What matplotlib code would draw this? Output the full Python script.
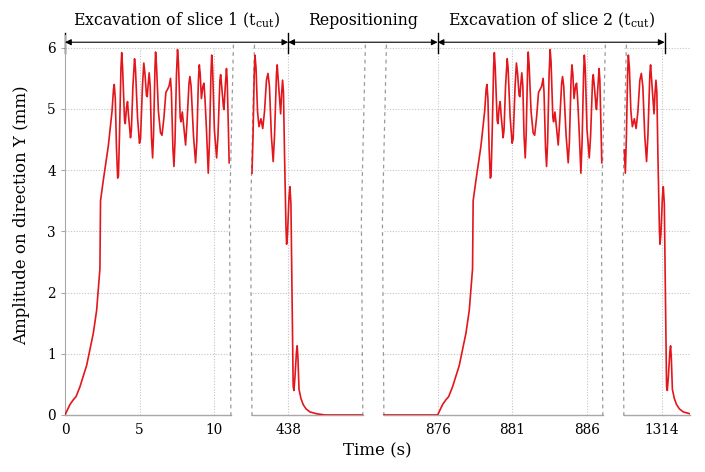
import numpy as np
import matplotlib
matplotlib.use('Agg')
import matplotlib.pyplot as plt

plt.rcParams['font.family'] = 'DejaVu Serif'
plt.rcParams['mathtext.fontset'] = 'custom'
plt.rcParams['mathtext.rm'] = 'DejaVu Serif'

# slice 1 amplitude (mm) vs time (s)
t1 = [0.00, 0.33, 0.56, 0.74, 1.00, 1.45, 1.90, 2.12, 2.34, 2.38, 2.57, 2.90, 3.15, 3.25,
      3.30, 3.37, 3.45, 3.53, 3.58, 3.65, 3.75, 3.80, 3.86, 3.99, 4.04, 4.12, 4.19, 4.25,
      4.39, 4.45, 4.55, 4.66, 4.72, 4.86, 4.99, 5.06, 5.19, 5.28, 5.36, 5.46, 5.51, 5.58,
      5.64, 5.71, 5.79, 5.87, 5.93, 6.03, 6.07, 6.13, 6.26, 6.40, 6.50, 6.63, 6.76, 6.87,
      6.97, 7.07, 7.13, 7.23, 7.30, 7.37, 7.47, 7.54, 7.60, 7.72, 7.77, 7.86, 7.94, 8.08,
      8.17, 8.31, 8.37, 8.45, 8.61, 8.75, 8.83, 8.94, 9.00, 9.06, 9.14, 9.24, 9.31, 9.38,
      9.48, 9.60, 9.68, 9.78, 9.83, 9.89, 10.01, 10.16, 10.25, 10.38, 10.43, 10.50, 10.62,
      10.65, 10.74, 10.82, 10.87, 10.95, 11.00,
      435.50, 435.57, 435.64, 435.72, 435.77, 435.84, 435.94, 436.04, 436.17, 436.29,
      436.41, 436.54, 436.64, 436.74, 436.87, 436.99, 437.08, 437.21, 437.26, 437.33,
      437.49, 437.56, 437.62, 437.68, 437.75, 437.85, 437.89, 437.95, 438.05, 438.11,
      438.18, 438.25, 438.33, 438.38, 438.45, 438.55, 438.60, 438.65, 438.72, 438.85,
      439.00, 439.19, 439.45, 439.90, 440.46, 442.94]
y1 = [0.00, 0.17, 0.25, 0.30, 0.46, 0.81, 1.34, 1.71, 2.39, 3.50, 3.84, 4.39, 4.96, 5.32,
      5.40, 5.17, 4.36, 3.87, 3.90, 4.56, 5.67, 5.92, 5.67, 4.81, 4.76, 5.02, 5.12, 4.91,
      4.53, 4.66, 5.37, 5.82, 5.67, 4.86, 4.44, 4.51, 5.37, 5.75, 5.57, 5.22, 5.20, 5.42,
      5.59, 5.37, 4.56, 4.20, 4.56, 5.67, 5.93, 5.72, 4.96, 4.61, 4.57, 4.86, 5.27, 5.32,
      5.37, 5.50, 5.27, 4.36, 4.06, 4.46, 5.57, 5.97, 5.77, 4.86, 4.79, 4.95, 4.76, 4.41,
      4.76, 5.42, 5.53, 5.37, 4.56, 4.12, 4.46, 5.47, 5.72, 5.57, 5.17, 5.37, 5.42, 5.17,
      4.66, 3.95, 4.46, 5.57, 5.88, 5.67, 4.66, 4.20, 4.56, 5.47, 5.56, 5.37, 5.02,
      4.99, 5.37, 5.66, 5.47, 4.66, 4.12,
      4.33, 3.95, 4.56, 5.57, 5.88, 5.67, 4.96, 4.71, 4.84, 4.68,
      4.96, 5.47, 5.58, 5.37, 4.56, 4.14, 4.56, 5.57, 5.72, 5.47,
      4.92, 5.27, 5.47, 5.27, 4.26, 3.05, 2.79, 2.95, 3.55, 3.73,
      3.45, 2.04, 0.47, 0.40, 0.62, 1.03, 1.13, 0.93, 0.42, 0.27,
      0.17, 0.10, 0.05, 0.02, 0.00, 0.00]

# slice 2 repeats slice 1, starting at 876 s (flat before it)
slice2_start = 876
t2_lead = [872.4]
y2_lead = [0.0]

xticks = [0, 5, 10, 438, 876, 881, 886, 1314]
yticks = [0, 1, 2, 3, 4, 5, 6]

# broken time axis: shown pieces (start, end) in seconds
pieces = [(0, 11.12), (435.57, 443.0), (872.4, 887.07), (1311.47, 1315.9)]
gap = 1.41  # width of each break, in seconds of the shown scale

brk_t, brk_u = [], []
u = 0.0
for i, (a, b) in enumerate(pieces):
    if i > 0:
        u += gap
    brk_t += [a, b]
    brk_u += [u, u + (b - a)]
    u += b - a
brk_t = np.array(brk_t)
brk_u = np.array(brk_u)


def fwd(t):
    return np.interp(t, brk_t, brk_u)


def inv(uu):
    return np.interp(uu, brk_u, brk_t)


t1 = np.array(t1)
y1 = np.array(y1)
t2 = np.concatenate([t2_lead, t1 + slice2_start])
y2 = np.concatenate([y2_lead, y1])

fig = plt.figure(figsize=(7.05, 4.72), dpi=100)
ax = fig.add_axes([0.0922, 0.1208, 0.8865, 0.804])
ax.set_xscale('function', functions=(fwd, inv))
ax.set_xlim(pieces[0][0], pieces[-1][1])
ax.set_ylim(0, 6.2)

red = '#e3161c'
for t, y in [(t1, y1), (t2, y2)]:
    for a, b in pieces:
        m = (t >= a - 1e-6) & (t <= b + 1e-6)
        if m.sum() > 1:
            ax.plot(t[m], y[m], color=red, lw=1.2, zorder=3)

grid_kw = dict(color='#c4c4c4', lw=0.8, linestyle=(0, (1, 1.5)), zorder=1)
for yv in yticks[1:]:
    for a, b in pieces:
        ax.hlines(yv, a, b, **grid_kw)
ax.vlines(xticks[1:], 0, 6, **grid_kw)

# spines
for s in ['top', 'right', 'bottom']:
    ax.spines[s].set_visible(False)
ax.spines['left'].set_color('#a8a8a8')
for a, b in pieces:
    ax.plot([a, b], [0, 0], color='#a8a8a8', lw=1.0, clip_on=False, zorder=2)

# dashed break marks
px = 14.93  # pixels per second
for a, b in pieces:
    for edge in (a, b):
        if edge in (pieces[0][0], pieces[-1][1]):
            continue
        ue = fwd(edge)
        xs = inv(np.array([ue + 2.5 / px, ue - 1.5 / px, ue]))
        ax.plot(xs, [6.05, 3.2, -0.06], color='#999999', lw=0.9,
                linestyle=(0, (3, 3)), clip_on=False, zorder=2)

ax.set_xticks(xticks)
ax.set_xticklabels([str(x) for x in xticks])
ax.set_yticks(yticks)
ax.tick_params(axis='both', colors='#a8a8a8', labelcolor='black', labelsize=9.8,
               length=3, width=0.8)
ax.tick_params(axis='x', length=0, pad=6)
ax.minorticks_off()

ax.set_xlabel('Time (s)', fontsize=12)
ax.set_ylabel('Amplitude on direction Y (mm)', fontsize=12)
ax.yaxis.set_label_coords(-0.056, 0.527)

# phase arrows on top
bounds = [0, 438, 876, 1314.2]
names = [r'Excavation of slice 1 (t$_{\mathrm{cut}}$)', 'Repositioning',
         r'Excavation of slice 2 (t$_{\mathrm{cut}}$)']
ya = 6.09
for i in range(3):
    a, b = bounds[i], bounds[i + 1]
    ax.annotate('', xy=(b, ya), xytext=(a, ya),
                arrowprops=dict(arrowstyle='<|-|>', color='black', lw=0.8,
                                mutation_scale=9, shrinkA=0, shrinkB=0),
                annotation_clip=False)
    mid = inv((fwd(a) + fwd(b)) / 2)
    ax.text(mid, 6.45, names[i], ha='center', va='center', fontsize=11.3)
for b in bounds:
    ax.plot([b, b], [5.91, 6.24], color='black', lw=1.0, clip_on=False)

plt.savefig('out.png', dpi=100)
